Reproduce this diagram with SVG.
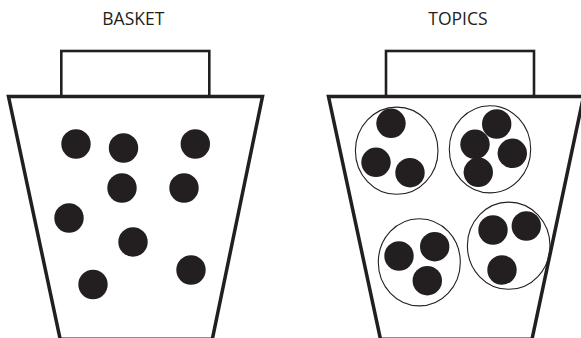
<svg xmlns="http://www.w3.org/2000/svg" width="581" height="338" viewBox="0 0 581 338">
<style>
.lbl{font-family:"Open Sans","Liberation Sans",sans-serif;font-size:17.5px;fill:#231f20;text-anchor:middle}
.body{fill:#fff;stroke:#231f20;stroke-width:3.5;stroke-linejoin:miter}
.handle{fill:#fff;stroke:#231f20;stroke-width:2.6}
.dot{fill:#231f20}
.grp{fill:none;stroke:#231f20;stroke-width:1.1}
</style>
<rect width="581" height="338" fill="#fff"/>
<g id="basket">
<text class="lbl" x="133.3" y="25">BASKET</text>
<rect class="handle" x="61.3" y="51" width="148" height="46"/>
<polygon class="body" points="8.5,96.5 262.5,96.5 212.3,339.3 60.2,339.3"/>
<circle class="dot" cx="76" cy="144" r="14.7"/>
<circle class="dot" cx="123.5" cy="148" r="14.7"/>
<circle class="dot" cx="195.3" cy="144" r="14.7"/>
<circle class="dot" cx="122" cy="188" r="14.7"/>
<circle class="dot" cx="184" cy="188" r="14.7"/>
<circle class="dot" cx="69" cy="218" r="14.7"/>
<circle class="dot" cx="133" cy="242" r="14.7"/>
<circle class="dot" cx="191" cy="270" r="14.7"/>
<circle class="dot" cx="93" cy="284.5" r="14.7"/>
</g>
<g id="topics">
<text class="lbl" x="458" y="25">TOPICS</text>
<rect class="handle" x="386" y="51" width="148" height="46"/>
<polygon class="body" points="328.5,96.5 583.5,96.5 532,339.3 380.5,339.3"/>
<g id="topic1">
<ellipse class="grp" cx="396.7" cy="150.7" rx="41.3" ry="43.6"/>
<circle class="dot" cx="391" cy="123.3" r="14.7"/>
<circle class="dot" cx="376" cy="162.3" r="14.7"/>
<circle class="dot" cx="410" cy="172.7" r="14.7"/>
</g>
<g id="topic2">
<ellipse class="grp" cx="490" cy="149.3" rx="40.7" ry="43.6"/>
<circle class="dot" cx="496.7" cy="124" r="14.7"/>
<circle class="dot" cx="475" cy="144.3" r="14.7"/>
<circle class="dot" cx="512.3" cy="153.3" r="14.7"/>
<circle class="dot" cx="478.3" cy="172.3" r="14.7"/>
</g>
<g id="topic3">
<ellipse class="grp" cx="419.3" cy="262.3" rx="41" ry="43.6"/>
<circle class="dot" cx="399" cy="256" r="14.7"/>
<circle class="dot" cx="434.7" cy="246.7" r="14.7"/>
<circle class="dot" cx="427.3" cy="280.7" r="14.7"/>
</g>
<g id="topic4">
<ellipse class="grp" cx="508.7" cy="245.7" rx="41.3" ry="43.6"/>
<circle class="dot" cx="493" cy="230" r="14.7"/>
<circle class="dot" cx="526.3" cy="226" r="14.7"/>
<circle class="dot" cx="502" cy="270" r="14.7"/>
</g>
</g>
<g id="connectors"/>
</svg>
